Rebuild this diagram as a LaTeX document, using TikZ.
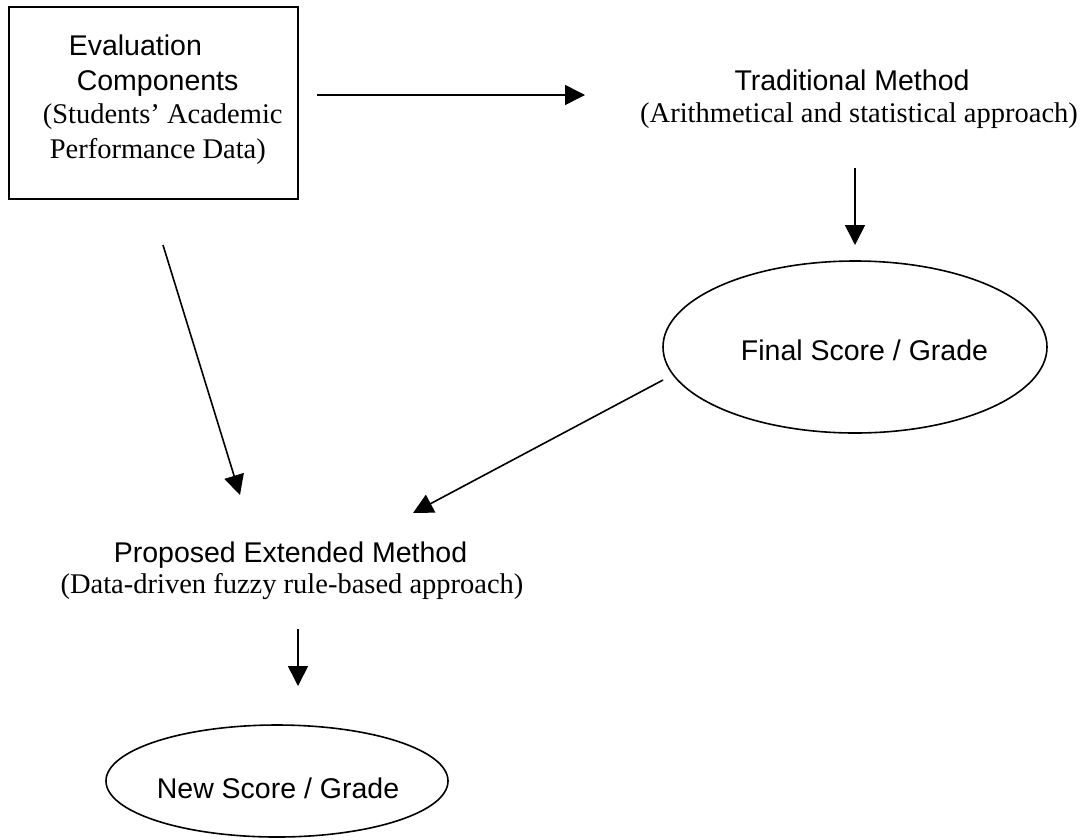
\documentclass[tikz,border=0pt]{standalone}
\usepackage{fontspec}
\setmainfont{Liberation Serif}
\newfontfamily\arialfont{Liberation Sans}
\usetikzlibrary{arrows.meta,shapes.geometric}

\begin{document}
\begin{tikzpicture}[x=1pt,y=-1pt,
  line width=1.6pt,
  sanstext/.style={inner sep=0pt,anchor=base,font=\arialfont\fontsize{28.5}{33}\selectfont},
  seriftext/.style={inner sep=0pt,anchor=base,font=\fontsize{28.5}{33}\selectfont},
  oval/.style={draw,ellipse,inner sep=0pt},
  flow/.style={-{Triangle[length=20pt,width=20pt]}}]

\useasboundingbox (0,0) rectangle (1091,839);

% evaluation components box
\node[draw,rectangle,inner sep=0pt,minimum width=289pt,minimum height=192pt] (eval) at (153.5,103) {};
\node[sanstext,anchor=base west] (ev1) at (68,55) {Evaluation};
\node[sanstext,anchor=base west] (ev2) at (76,90) {Components};
\node[seriftext,anchor=base west] (ev3) at (42,123) {(Students’ Academic};
\node[seriftext,anchor=base west] (ev4) at (49,158) {Performance Data)};

% traditional method
\node[sanstext] (trad) at (852,90) {Traditional Method};
\node[seriftext] (tradsub) at (859,122) {(Arithmetical and statistical approach)};

% final score ellipse
\node[oval,minimum width=384pt,minimum height=172pt] (final) at (855,347) {};
\node[sanstext] (finaltext) at (864.5,360) {Final Score / Grade};

% proposed method
\node[sanstext] (prop) at (290.5,562) {Proposed Extended Method};
\node[seriftext] (propsub) at (292,593) {(Data-driven fuzzy rule-based approach)};

% new score ellipse
\node[oval,minimum width=342pt,minimum height=112pt] (new) at (277,781) {};
\node[sanstext] (newtext) at (278,798) {New Score / Grade};

% connector end points
\coordinate (a1s) at (317,95);
\coordinate (a1e) at (585,95);
\coordinate (a2s) at (855,168);
\coordinate (a2e) at (855,245);
\coordinate (a3s) at (663,380);
\coordinate (a3e) at (413,513);
\coordinate (a4s) at (163,245);
\coordinate (a4e) at (240,495);
\coordinate (a5s) at (298,629);
\coordinate (a5e) at (298,686);

\draw[flow] (a1s) -- (a1e);
\draw[flow] (a2s) -- (a2e);
\draw[flow] (a3s) -- (a3e);
\draw[flow] (a4s) -- (a4e);
\draw[flow] (a5s) -- (a5e);
\end{tikzpicture}
\end{document}
